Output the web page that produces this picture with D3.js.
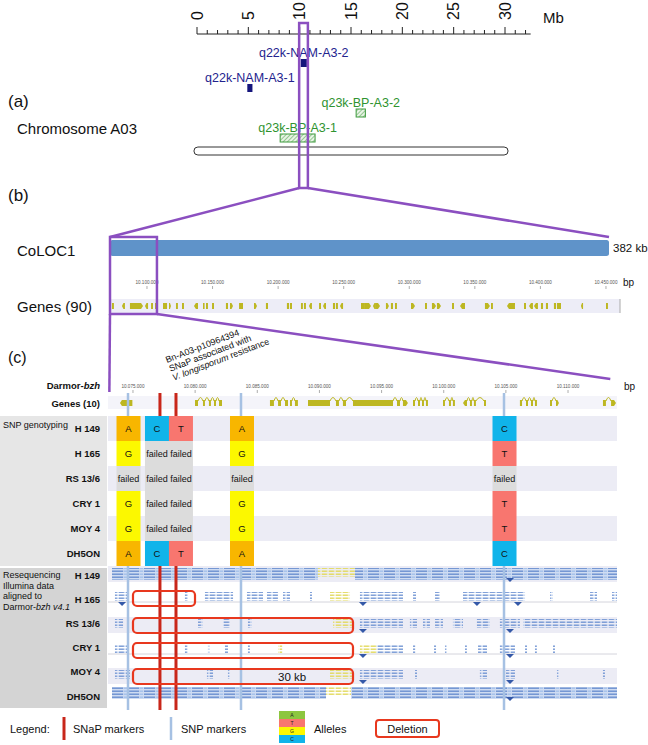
<!DOCTYPE html>
<html>
<head>
<meta charset="utf-8">
<script src="https://cdn.jsdelivr.net/npm/d3@7"></script>
<style>
  body { margin: 0; background: #fff; }
  svg { display: block; font-family: "Liberation Sans", Arial, sans-serif; }
</style>
</head>
<body>
<svg id="fig" width="648" height="745"></svg>
<script>
// ---------- data ----------
// panel (a): chromosome A03, Mb
const mbTicks = d3.range(0, 33);
const mbLabels = [0, 5, 10, 15, 20, 25, 30];
const chromExtent = [-0.3, 30.3];
const focusMb = [9.95, 10.8];
const qtlNames = ["q22k-NAM-A3-2", "q22k-NAM-A3-1", "q23k-BP-A3-2", "q23k-BP-A3-1"];
const qtlStart = [10.1, 4.9, 15.5, 8.1];
const qtlEnd = [10.7, 5.4, 16.4, 11.5];
const qtlType = ["NAM", "NAM", "BP", "BP"];

// panel (b): CoLOC1, kb
const colocKb = [10071.8, 10452.3];
const ticksB = [10100000, 10150000, 10200000, 10250000, 10300000, 10350000, 10400000, 10450000];
const zoomKb = [10071.8, 10107.6];
// [start kb, end kb, strand]
const genes90 = [
  [10073.3,10074.8,0],[10080.9,10083.2,-1],[10087.0,10097.0,1],[10098.5,10100.8,-1],[10103.1,10104.6,0],
  [10106.1,10107.6,0],[10112.2,10115.3,0],[10116.8,10118.3,1],[10122.1,10123.6,0],[10126.7,10128.2,0],
  [10135.8,10138.9,-1],[10142.7,10143.5,0],[10145.0,10146.5,0],[10149.6,10151.1,0],[10160.2,10161.8,0],
  [10163.3,10165.6,1],[10170.2,10173.2,0],[10181.6,10183.9,1],[10190.7,10192.3,0],[10206.7,10208.3,0],
  [10209.0,10210.6,0],[10217.4,10218.9,0],[10219.7,10221.2,0],[10223.5,10225.8,-1],[10231.2,10232.7,0],
  [10234.2,10236.5,-1],[10241.8,10243.4,0],[10244.1,10245.6,0],[10247.2,10249.5,-1],[10263.2,10266.2,0],
  [10266.2,10270.8,1],[10272.3,10274.6,-1],[10274.6,10277.7,1],[10282.2,10284.5,1],[10286.0,10287.6,0],
  [10289.1,10290.6,0],[10301.3,10304.4,1],[10312.0,10313.5,0],[10317.3,10320.4,1],[10321.1,10324.2,1],
  [10332.6,10334.1,0],[10338.7,10342.5,-1],[10357.7,10361.5,1],[10362.3,10363.8,0],[10374.5,10380.6,-1],
  [10387.5,10389.0,0],[10391.3,10394.3,-1],[10395.1,10398.1,-1],[10400.4,10402.0,0],[10404.2,10405.8,0],
  [10410.3,10411.9,0],[10412.6,10415.7,0],[10430.9,10432.5,-1],[10450.0,10451.5,0]
];

// panel (c): zoomed region, kb
const zoomTargetKb = [10073.1, 10113.4];
const ticksC = [10075000, 10080000, 10085000, 10090000, 10095000, 10100000, 10105000, 10110000];
const genesC = [
  { exons: [[10073.95, 10074.95]], strand: -1 },
  { exons: [[10079.99, 10080.23], [10080.63, 10080.79], [10081.11, 10081.27], [10081.52, 10081.68], [10081.92, 10082.16]], strand: 0 },
  { exons: [[10086.02, 10086.34], [10086.67, 10086.91], [10087.23, 10087.47]], strand: 0 },
  { exons: [[10087.63, 10087.79], [10088.03, 10088.27]], strand: 0 },
  { exons: [[10089.08, 10090.85], [10091.33, 10091.57], [10091.89, 10092.14], [10092.70, 10095.92], [10096.24, 10096.48], [10096.72, 10097.12]], strand: 1 },
  { exons: [[10097.53, 10097.69], [10097.93, 10098.09], [10098.25, 10098.41], [10098.57, 10098.73]], strand: 0 },
  { exons: [[10099.94, 10100.10], [10100.42, 10100.58], [10100.74, 10100.90]], strand: 0 },
  { exons: [[10101.55, 10101.87], [10102.11, 10102.27], [10102.43, 10102.59], [10103.24, 10103.40]], strand: -1 },
  { exons: [[10106.13, 10106.30], [10106.62, 10106.78], [10107.02, 10107.18], [10107.34, 10107.50]], strand: 0 },
  { exons: [[10108.55, 10108.71], [10109.03, 10109.27]], strand: 1 },
  { exons: [[10112.81, 10113.05], [10113.46, 10113.86]], strand: 1 }
];
const snpKb = [10074.60, 10083.69, 10104.85];
const snapKb = [10077.17, 10078.46];
const columnKb = [10074.64, 10076.93, 10078.86, 10083.77, 10104.89];
const lines = ["H 149", "H 165", "RS 13/6", "CRY 1", "MOY 4", "DH5ON"];
const genotypes = [
  ["A", "C", "T", "A", "C"],
  ["G", "failed", "failed", "G", "T"],
  ["failed", "failed", "failed", "failed", "failed"],
  ["G", "failed", "failed", "G", "T"],
  ["G", "failed", "failed", "G", "T"],
  ["A", "C", "T", "A", "C"]
];

// resequencing coverage: [start kb, end kb, kind]  d = dense, s = sparse, y = mismatch reads
const readsH149 = [[10073.31,10089.88,"d"],[10089.88,10092.86,"y"],[10092.86,10113.94,"d"]];
const readsH165 = [[10073.55,10074.60,"s"],[10079.18,10079.42,"s"],[10080.79,10083.05,"s"],[10084.17,10085.46,"s"],
  [10085.78,10086.67,"s"],[10087.07,10087.63,"s"],[10089.24,10089.40,"s"],[10090.85,10092.46,"y"],[10093.26,10096.72,"s"],
  [10097.53,10097.77,"s"],[10099.30,10099.70,"s"],[10101.55,10106.54,"s"],[10108.55,10108.79,"s"],[10111.77,10112.33,"s"],
  [10113.54,10113.94,"s"]];
const readsRS136 = [[10073.55,10074.20,"s"],[10080.23,10080.63,"s"],[10082.24,10082.80,"s"],[10084.25,10084.57,"s"],
  [10091.09,10092.70,"y"],[10093.26,10096.72,"s"],[10097.28,10097.85,"s"],[10098.33,10098.89,"s"],[10099.30,10099.94,"s"],
  [10100.74,10101.55,"s"],[10102.67,10103.72,"s"],[10104.52,10106.13,"s"],[10106.38,10113.94,"s"]];
const readsCRY1 = [[10073.55,10074.60,"s"],[10079.18,10079.40,"s"],[10081.03,10081.19,"s"],[10082.40,10082.64,"s"],
  [10084.25,10084.41,"s"],[10086.67,10087.00,"y"],[10093.26,10094.60,"y"],[10094.60,10096.72,"s"],[10097.53,10097.70,"s"],
  [10099.22,10099.38,"s"],[10100.10,10100.26,"s"],[10101.71,10101.87,"s"],[10102.76,10103.48,"s"],[10104.52,10105.73,"s"],
  [10106.54,10106.70,"s"],[10107.34,10107.50,"s"],[10108.79,10108.95,"s"]];
const readsMOY4 = [[10073.55,10074.76,"s"],[10080.95,10081.44,"s"],[10082.64,10082.80,"s"],[10090.85,10092.62,"y"],
  [10093.26,10096.72,"s"],[10097.69,10097.85,"s"],[10102.91,10103.48,"s"],[10105.01,10105.73,"s"],[10109.11,10109.27,"s"],
  [10112.81,10112.97,"s"]];
const readsDH5ON = [[10073.31,10090.53,"d"],[10090.53,10092.54,"y"],[10092.54,10113.94,"d"]];
const peaksH149 = [10105.33];
const peaksH165 = [10074.12, 10093.50, 10102.67, 10105.97];
const peaksRS136 = [10093.50, 10105.33];
const peaksCRY1 = [10093.50, 10105.33];
const peaksMOY4 = [10093.50, 10105.33];
const peaksDH5ON = [10105.33];
// [line, start kb, end kb]
const deletions = [["H 165", 10075.0, 10079.99], ["RS 13/6", 10075.0, 10092.70], ["CRY 1", 10075.0, 10092.70], ["MOY 4", 10075.0, 10092.70]];
const deletionLabel = ["MOY 4", 10087.8, "30 kb"];

const alleleKeys = ["A", "T", "G", "C"];

// ---------- setup ----------
const svg = d3.select("#fig");
const defs = svg.append("defs");
const purple = "#8b4fc0";
const geneColor = "#bdb722";
const alleleColor = { A: "#f8b600", T: "#f8766f", G: "#fcf800", C: "#10b4ea", failed: "#dcdcdc" };
const legendAlleleColor = { A: "#8cc63f", T: "#f8766f", G: "#fcf800", C: "#10b4ea" };

const hatch = defs.append("pattern").attr("id", "hatch").attr("patternUnits", "userSpaceOnUse")
  .attr("width", 3).attr("height", 3).attr("patternTransform", "rotate(45)");
hatch.append("rect").attr("width", 3).attr("height", 3).attr("fill", "#e9f4e6");
hatch.append("line").attr("x1", 0).attr("y1", 0).attr("x2", 0).attr("y2", 3)
  .attr("stroke", "#3d9a3d").attr("stroke-width", 1);

function readPattern(id, w, main, accent) {
  const p = defs.append("pattern").attr("id", id).attr("patternUnits", "userSpaceOnUse")
    .attr("width", w).attr("height", 3);
  p.append("rect").attr("x", 0).attr("y", 0.5).attr("width", w * 0.7).attr("height", 1.4).attr("fill", main);
  p.append("rect").attr("x", w * 0.75).attr("y", 0.5).attr("width", w * 0.2).attr("height", 1.4).attr("fill", accent);
}
readPattern("readsDense", 16, "#6b8fd0", "#a3c0ea");
readPattern("readsSparse", 7, "#7497d4", "#afc7ec");
readPattern("readsYellow", 7, "#e2da5e", "#efe9a0");

const sa = d3.scaleLinear().domain([0, 30]).range([197, 505]);
const sb = d3.scaleLinear().domain(colocKb).range([110, 609]);
const sc = d3.scaleLinear().domain([10072.99, 10113.94]).range([108, 617]);
const fmt = d3.formatLocale({ decimal: ",", thousands: ".", grouping: [3], currency: ["", ""] }).format(",");

function label(x, y, txt, size, opts = {}) {
  return svg.append("text").attr("x", x).attr("y", y).attr("font-size", size)
    .attr("fill", opts.fill || "#111").attr("font-weight", opts.bold ? "bold" : null)
    .attr("text-anchor", opts.anchor || "start").text(txt);
}

// ---------- panel (a) ----------
const axisY = 34;
svg.append("line").attr("x1", sa(0)).attr("x2", sa(32.5)).attr("y1", axisY).attr("y2", axisY)
  .attr("stroke", "#222").attr("stroke-width", 1.2);
svg.append("g").selectAll("line").data(mbTicks).join("line")
  .attr("x1", d => sa(d)).attr("x2", d => sa(d))
  .attr("y1", axisY).attr("y2", d => d % 5 === 0 ? axisY - 7 : axisY - 4)
  .attr("stroke", "#222").attr("stroke-width", 1);
svg.append("g").selectAll("text").data(mbLabels).join("text")
  .attr("transform", d => `translate(${sa(d)},20) rotate(-90)`)
  .attr("dy", "0.35em").attr("font-size", 16).attr("fill", "#111").text(d => d);
label(543, 23, "Mb", 15);

label(8, 107, "(a)", 17);
label(17, 134, "Chromosome A03", 15);

const qtlRows = d3.scalePoint().domain(qtlNames).range([63, 138]);
const qg = svg.append("g").selectAll("g").data(qtlNames).join("g");
qg.append("text")
  .attr("x", (d, i) => sa((qtlStart[i] + qtlEnd[i]) / 2))
  .attr("y", d => qtlRows(d) - 6)
  .attr("text-anchor", "middle").attr("font-size", 12.5)
  .attr("fill", (d, i) => qtlType[i] === "NAM" ? "#23238e" : "#2f932f")
  .text(d => d);
qg.append("rect")
  .attr("x", (d, i) => sa(qtlStart[i])).attr("width", (d, i) => sa(qtlEnd[i]) - sa(qtlStart[i]))
  .attr("y", d => qtlRows(d) - 4).attr("height", 8)
  .attr("fill", (d, i) => qtlType[i] === "NAM" ? "#15157c" : "url(#hatch)")
  .attr("stroke", (d, i) => qtlType[i] === "NAM" ? "none" : "#3d9a3d").attr("stroke-width", 1);

svg.append("rect").attr("x", sa(chromExtent[0])).attr("width", sa(chromExtent[1]) - sa(chromExtent[0]))
  .attr("y", 147).attr("height", 8).attr("rx", 4).attr("fill", "#fff")
  .attr("stroke", "#333").attr("stroke-width", 1);

// ---------- panel (b) ----------
label(8, 201, "(b)", 17);
label(17, 256, "CoLOC1", 15);
label(17, 312, "Genes (90)", 15);
label(613, 252, "382 kb", 11.5);

svg.append("rect").attr("x", sb(colocKb[0])).attr("width", sb(colocKb[1]) - sb(colocKb[0]))
  .attr("y", 240).attr("height", 16).attr("rx", 2.5).attr("fill", "#5f93c9");

const tb = svg.append("g");
tb.selectAll("text").data(ticksB).join("text")
  .attr("x", d => sb(d / 1000)).attr("y", 284).attr("text-anchor", "middle")
  .attr("font-size", 4.6).attr("fill", "#555").text(d => fmt(d));
tb.selectAll("line").data(ticksB).join("line")
  .attr("x1", d => sb(d / 1000)).attr("x2", d => sb(d / 1000)).attr("y1", 286).attr("y2", 289)
  .attr("stroke", "#777").attr("stroke-width", 0.6);
label(623, 286, "bp", 10);

svg.append("rect").attr("x", 110).attr("width", 510).attr("y", 299).attr("height", 14).attr("fill", "#ededf7");
svg.append("line").attr("x1", 620).attr("x2", 620).attr("y1", 299).attr("y2", 313).attr("stroke", "#aaa");

function geneShape(x0, x1, yt, h, strand) {
  const w = Math.max(x1 - x0, 1.6), xe = x0 + w, ym = yt + h / 2, yb = yt + h, tip = Math.min(2, w / 2);
  if (strand === 1) return `M${x0},${yt}H${xe - tip}L${xe},${ym}L${xe - tip},${yb}H${x0}Z`;
  if (strand === -1) return `M${xe},${yt}H${x0 + tip}L${x0},${ym}L${x0 + tip},${yb}H${xe}Z`;
  return `M${x0},${yt}H${xe}V${yb}H${x0}Z`;
}
svg.append("g").selectAll("path").data(genes90).join("path")
  .attr("d", d => geneShape(sb(d[0]), sb(d[1]), 303, 6, d[2])).attr("fill", geneColor);

// ---------- panel (c) ----------
label(8, 363, "(c)", 16);
const ann = svg.append("text").attr("transform", "translate(167,363) rotate(-21)")
  .attr("font-size", 9).attr("fill", "#111");
ann.append("tspan").attr("x", 0).attr("y", 0).text("Bn-A03-p10964394");
ann.append("tspan").attr("x", 0).attr("y", 9.5).text("SNaP associated with");
const t3 = ann.append("tspan").attr("x", 0).attr("y", 19);
t3.append("tspan").attr("font-style", "italic").text("V. longisporum");
t3.append("tspan").text(" resistance");

const dl = svg.append("text").attr("x", 100).attr("y", 389).attr("text-anchor", "end")
  .attr("font-size", 9.5).attr("font-weight", "bold").attr("fill", "#111");
dl.append("tspan").text("Darmor-");
dl.append("tspan").attr("font-style", "italic").text("bzh");
label(100, 407, "Genes (10)", 9.5, { bold: true, anchor: "end" });

const tc = svg.append("g");
tc.selectAll("text").data(ticksC).join("text")
  .attr("x", d => sc(d / 1000)).attr("y", 388).attr("text-anchor", "middle")
  .attr("font-size", 4.6).attr("fill", "#555").text(d => fmt(d));
tc.selectAll("line").data(ticksC).join("line")
  .attr("x1", d => sc(d / 1000)).attr("x2", d => sc(d / 1000)).attr("y1", 390).attr("y2", 393)
  .attr("stroke", "#777").attr("stroke-width", 0.6);
label(624, 390, "bp", 10);

svg.append("rect").attr("x", 108).attr("width", 509).attr("y", 396).attr("height", 13).attr("fill", "#f4f4fa");
const gc = svg.append("g");
genesC.forEach(g => {
  g.exons.forEach((e, i) => {
    const first = i === 0, last = i === g.exons.length - 1;
    const st = (g.strand === 1 && last) ? 1 : (g.strand === -1 && first) ? -1 : 0;
    gc.append("path").attr("d", geneShape(sc(e[0]), sc(e[1]), 400, 6, st)).attr("fill", geneColor);
    if (!last) {
      const xa = sc(e[1]), xb = sc(g.exons[i + 1][0]);
      gc.append("path").attr("d", `M${xa},401Q${(xa + xb) / 2},394 ${xb},401`)
        .attr("fill", "none").attr("stroke", geneColor).attr("stroke-width", 1);
    }
  });
});

// genotyping table
const rowG = d3.scaleBand().domain(lines).range([416, 566]);
svg.append("rect").attr("x", 0).attr("y", 416).attr("width", 107).attr("height", 150).attr("fill", "#e6e6e6");
svg.append("g").selectAll("rect").data(lines).join("rect")
  .attr("x", 108).attr("width", 509).attr("y", d => rowG(d)).attr("height", rowG.bandwidth())
  .attr("fill", (d, i) => i % 2 === 0 ? "#ececf5" : "#fff");
label(3, 428, "SNP genotyping", 9);
svg.append("g").selectAll("text").data(lines).join("text")
  .attr("x", 100).attr("y", d => rowG(d) + rowG.bandwidth() / 2 + 3.5).attr("text-anchor", "end")
  .attr("font-size", 9.5).attr("font-weight", "bold").attr("fill", "#111").text(d => d);

// resequencing block: label rows and track rows
const rowR = d3.scalePoint().domain(lines).range([575, 696]);
const trackY = d3.scaleOrdinal().domain(lines).range([574, 598, 625, 650, 676, 693]);
svg.append("rect").attr("x", 0).attr("y", 568).attr("width", 107).attr("height", 140).attr("fill", "#d4d4d4");
const rl = svg.append("text").attr("font-size", 9).attr("fill", "#111");
rl.append("tspan").attr("x", 3).attr("y", 578).text("Resequencing");
rl.append("tspan").attr("x", 3).attr("y", 588.5).text("Illumina data");
rl.append("tspan").attr("x", 3).attr("y", 599).text("aligned to");
const rl4 = rl.append("tspan").attr("x", 3).attr("y", 609.5);
rl4.append("tspan").text("Darmor-");
rl4.append("tspan").attr("font-style", "italic").text("bzh v4.1");
svg.append("g").selectAll("text").data(lines).join("text")
  .attr("x", 100).attr("y", d => rowR(d) + 3.5).attr("text-anchor", "end")
  .attr("font-size", 9.5).attr("font-weight", "bold").attr("fill", "#111").text(d => d);

const readsByLine = [readsH149, readsH165, readsRS136, readsCRY1, readsMOY4, readsDH5ON];
const peaksByLine = [peaksH149, peaksH165, peaksRS136, peaksCRY1, peaksMOY4, peaksDH5ON];
const rg = svg.append("g");
lines.forEach((ln, i) => {
  const y = trackY(ln);
  if (i % 2 === 0 && i < 5) {
    rg.append("rect").attr("x", 108).attr("width", 509).attr("y", y - 8).attr("height", 16).attr("fill", "#ececf5");
  } else if (i < 5) {
    rg.append("line").attr("x1", 108).attr("x2", 617).attr("y1", y + 4).attr("y2", y + 4)
      .attr("stroke", "#c9c9d3").attr("stroke-width", 0.8);
  }
  readsByLine[i].forEach(r => {
    const x0 = sc(r[0]), w = Math.max(sc(r[1]) - sc(r[0]), 1.5);
    if (r[2] === "d") {
      rg.append("rect").attr("x", x0).attr("width", w).attr("y", y - 6).attr("height", 12).attr("fill", "#cfdcf2");
      rg.append("rect").attr("x", x0).attr("width", w).attr("y", y - 6).attr("height", 12).attr("fill", "url(#readsDense)");
    } else {
      rg.append("rect").attr("x", x0).attr("width", w).attr("y", y - 6).attr("height", 9)
        .attr("fill", r[2] === "y" ? "url(#readsYellow)" : "url(#readsSparse)");
    }
  });
  rg.selectAll(null).data(peaksByLine[i]).join("path")
    .attr("d", d => `M${sc(d) - 4},${y + 4}L${sc(d) + 4},${y + 4}L${sc(d)},${y + 8}Z`)
    .attr("fill", "#3559a8");
});

// marker lines
const markerTop = 393, markerBottom = 710;
svg.append("g").selectAll("line").data(snpKb).join("line")
  .attr("x1", d => sc(d)).attr("x2", d => sc(d)).attr("y1", markerTop).attr("y2", markerBottom)
  .attr("stroke", "#a6c1e3").attr("stroke-width", 2.5);
svg.append("g").selectAll("line").data(snapKb).join("line")
  .attr("x1", d => sc(d)).attr("x2", d => sc(d)).attr("y1", markerTop).attr("y2", markerBottom)
  .attr("stroke", "#c8261a").attr("stroke-width", 3);

// deletions
svg.append("g").selectAll("rect").data(deletions).join("rect")
  .attr("x", d => sc(d[1])).attr("width", d => sc(d[2]) - sc(d[1]))
  .attr("y", d => trackY(d[0]) - 7).attr("height", 15).attr("rx", 4)
  .attr("fill", "none").attr("stroke", "#e8381e").attr("stroke-width", 2.2);
label(sc(deletionLabel[1]), trackY(deletionLabel[0]) + 5, deletionLabel[2], 11.5, { anchor: "middle" });

// genotype cells (drawn over the marker lines)
const cellW = 24;
const cells = [];
genotypes.forEach((row, i) => row.forEach((g, j) => cells.push({ line: lines[i], kb: columnKb[j], g })));
const cg = svg.append("g").selectAll("g").data(cells).join("g");
cg.append("rect").attr("x", d => sc(d.kb) - cellW / 2).attr("width", cellW)
  .attr("y", d => rowG(d.line)).attr("height", rowG.bandwidth()).attr("fill", d => alleleColor[d.g]);
cg.append("text").attr("x", d => sc(d.kb)).attr("y", d => rowG(d.line) + rowG.bandwidth() / 2 + 3.3)
  .attr("text-anchor", "middle").attr("font-size", d => d.g === "failed" ? 9 : 9.5).attr("fill", "#111")
  .text(d => d.g);

// ---------- connectors ----------
const pl = svg.append("g").attr("fill", "none").attr("stroke", purple).attr("stroke-width", 2.5);
pl.append("rect").attr("x", sa(focusMb[0])).attr("width", sa(focusMb[1]) - sa(focusMb[0]))
  .attr("y", 23).attr("height", 165);
pl.append("path").attr("d", `M${sa(focusMb[0])},188L${sb(colocKb[0])},237`);
pl.append("path").attr("d", `M${sa(focusMb[1])},188L${sb(colocKb[1])},237`);
pl.append("rect").attr("x", sb(zoomKb[0])).attr("width", sb(zoomKb[1]) - sb(zoomKb[0]))
  .attr("y", 237).attr("height", 77);
pl.append("path").attr("d", `M${sb(zoomKb[0])},314L${sc(zoomTargetKb[0])},392`);
pl.append("path").attr("d", `M${sb(zoomKb[1])},314L${sc(zoomTargetKb[1])},379`);

// ---------- legend ----------
label(10, 733, "Legend:", 11);
svg.append("line").attr("x1", 64).attr("x2", 64).attr("y1", 717).attr("y2", 740)
  .attr("stroke", "#c8261a").attr("stroke-width", 3);
label(73, 733, "SNaP markers", 11);
svg.append("line").attr("x1", 171).attr("x2", 171).attr("y1", 717).attr("y2", 740)
  .attr("stroke", "#a6c1e3").attr("stroke-width", 2.5);
label(181, 733, "SNP markers", 11);
const ak = d3.scaleBand().domain(alleleKeys).range([711, 743]);
const lg = svg.append("g").selectAll("g").data(alleleKeys).join("g");
lg.append("rect").attr("x", 279).attr("width", 26).attr("y", d => ak(d)).attr("height", ak.bandwidth())
  .attr("fill", d => legendAlleleColor[d]);
lg.append("text").attr("x", 292).attr("y", d => ak(d) + ak.bandwidth() / 2 + 2)
  .attr("text-anchor", "middle").attr("font-size", 5).attr("fill", "#222").text(d => d);
label(314, 733, "Alleles", 11);
svg.append("rect").attr("x", 376).attr("y", 720).attr("width", 63).attr("height", 17).attr("rx", 3)
  .attr("fill", "none").attr("stroke", "#e8381e").attr("stroke-width", 2);
label(407.5, 732.5, "Deletion", 11, { anchor: "middle" });
</script>
</body>
</html>
